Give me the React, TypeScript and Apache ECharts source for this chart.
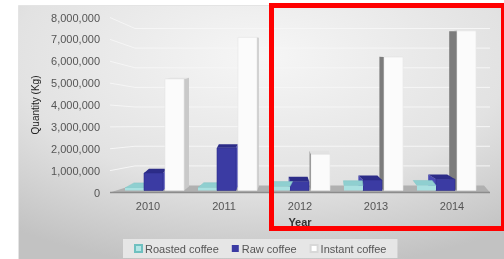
import React, { useEffect, useRef } from "react";
import * as echarts from "echarts";

const categories = ["2010", "2011", "2012", "2013", "2014"];
const seriesNames = ["Roasted coffee", "Raw coffee", "Instant coffee"];
const roasted = [120000, 130000, 180000, 220000, 230000];
const raw = [800000, 1950000, 420000, 480000, 520000];
const instant = [5100000, 7000000, 1650000, 6100000, 7300000];
const yTicks = [0, 1000000, 2000000, 3000000, 4000000, 5000000, 6000000, 7000000, 8000000];

const FACE = [
  { front: "#a9e0e0", top: "#8fcfd0", side: "#7dbcbc", stroke: "#7fc4c4" },
  { front: "#3b3ba3", top: "#2c2c88", side: "#4a4ab4", stroke: "#2d2d8a" },
  { front: "#fbfbfb", top: "#e2e2e2", side: "#c9c9c9", sideL: "#7c7c7c", stroke: "#e6e6e6" },
];

export default function App() {
  const ref = useRef<HTMLDivElement>(null);
  useEffect(() => {
    if (!ref.current) return;
    const chart = echarts.init(ref.current, null, { renderer: "svg" });

    const barData = categories.map((_, i) => [i, roasted[i], raw[i], instant[i]]);

    const renderBars = (params: any, api: any) => {
      const i = api.value(0);
      const [cx, y0] = api.coord([i, 0]);
      const yMax = api.coord([i, 8000000])[1];
      const w = 19;
      const shift = -4 - 3 * i;
      const dx = 5 - 3.2 * i;
      const base = y0 - 2;
      const offs = [-19, 0, 21];
      const order = dx >= 0 ? [0, 1, 2] : [2, 1, 0];
      const children: any[] = [];
      order.forEach((s) => {
        const v = api.value(s + 1);
        const y1 = api.coord([i, v])[1] - 2;
        const frac = (y0 - y1) / (y0 - yMax);
        const dy = -5 + 6 * frac;
        const x = cx + shift + offs[s];
        const f = FACE[s];
        if (s === 0) {
          children.push({
            type: "polygon",
            shape: { points: [[x, y1], [x + w, y1], [x + w + dx + 4, y1 - 5], [x + dx + 4, y1 - 5]] },
            style: { fill: f.top, stroke: f.stroke, lineWidth: 0.5 },
          });
          children.push({
            type: "rect",
            shape: { x, y: y1, width: w, height: Math.max(base - y1, 1.5) },
            style: { fill: f.front },
          });
          return;
        }
        if (dx >= 0) {
          children.push({
            type: "polygon",
            shape: { points: [[x + w, y1], [x + w + dx, y1 + dy], [x + w + dx, base - 4], [x + w, base]] },
            style: { fill: f.side },
          });
        } else {
          children.push({
            type: "polygon",
            shape: { points: [[x, y1], [x + dx, y1 + dy], [x + dx, base - 4], [x, base]] },
            style: { fill: (f as any).sideL || f.side },
          });
        }
        children.push({
          type: "polygon",
          shape: { points: [[x, y1], [x + w, y1], [x + w + dx, y1 + dy], [x + dx, y1 + dy]] },
          style: { fill: f.top },
        });
        children.push({
          type: "rect",
          shape: { x, y: y1, width: w, height: base - y1 },
          style: { fill: f.front, stroke: f.stroke, lineWidth: 0.6 },
        });
      });
      return { type: "group", children };
    };

    const renderGrid = (params: any, api: any) => {
      const v = api.value(0);
      const [xl, yF] = api.coord([0, v]);
      const band = api.size([1, 0])[0];
      const left = xl - band / 2;
      const right = left + band * 5;
      const yTop = api.coord([0, 8000000])[1];
      const yZero = api.coord([0, 0])[1];
      const backTop = yTop + 11;
      const backZero = yZero - 7;
      const yB = backTop + ((yF - yTop) / (yZero - yTop)) * (backZero - backTop);
      if (v === 0) {
        return {
          type: "group",
          children: [
            {
              type: "polygon",
              shape: { points: [[left, yZero], [right, yZero], [right - 6, yB], [left + 22, yB]] },
              style: { fill: "#b0b0b0" },
            },
            {
              type: "line",
              shape: { x1: left, y1: yZero, x2: right, y2: yZero },
              style: { stroke: "#8c8c8c", lineWidth: 1.5 },
            },
          ],
        };
      }
      return {
        type: "polyline",
        shape: { points: [[left, yF], [left + 25, yB], [right, yB]] },
        style: { stroke: "#f6f6f6", lineWidth: 1, fill: null },
      };
    };

    chart.setOption({
      animation: false,
      graphic: [
        {
          type: "rect",
          left: 18,
          top: 5,
          z: -10,
          shape: { width: 486, height: 254 },
          style: {
            fill: {
              type: "radial",
              x: 0.5,
              y: 0.2,
              r: 0.85,
              colorStops: [
                { offset: 0, color: "#f6f6f6" },
                { offset: 0.6, color: "#e2e2e2" },
                { offset: 1, color: "#c2c2c2" },
              ],
            },
            stroke: "#e4e4e4",
            lineWidth: 1,
          },
        },
        {
          type: "rect",
          left: 269,
          top: 3,
          z: 100,
          shape: { width: 232, height: 223 },
          style: { fill: "transparent", stroke: "#ff0000", lineWidth: 5 },
        },
      ],
      legend: {
        data: seriesNames,
        left: 123,
        top: 239,
        itemWidth: 7,
        itemHeight: 7,
        itemGap: 13,
        padding: [4, 11, 4, 11],
        backgroundColor: "#e6e6e6",
        icon: "rect",
        textStyle: { fontSize: 11, color: "#555", fontFamily: "Liberation Sans, Arial", padding: [0, 0, 0, -2] },
      },
      grid: { left: 110, right: 14, top: 17.5, bottom: 66.5, containLabel: false },
      xAxis: {
        type: "category",
        data: categories,
        name: "Year",
        nameLocation: "middle",
        nameGap: 22,
        nameTextStyle: { fontSize: 11, fontWeight: "bold", color: "#333", fontFamily: "Liberation Sans, Arial" },
        axisLine: { show: false },
        axisTick: { show: false },
        axisLabel: { fontSize: 11, color: "#555", margin: 8, fontFamily: "Liberation Sans, Arial" },
      },
      yAxis: {
        type: "value",
        min: 0,
        max: 8000000,
        interval: 1000000,
        name: "Quantity (Kg)",
        nameLocation: "middle",
        nameGap: 52,
        nameTextStyle: { fontSize: 10, color: "#222", fontFamily: "Liberation Sans, Arial" },
        axisLine: { show: false },
        axisTick: { show: false },
        splitLine: { show: false },
        axisLabel: {
          fontSize: 11,
          color: "#555",
          margin: 10,
          fontFamily: "Liberation Sans, Arial",
          formatter: (v: number) => v.toLocaleString("en-US"),
        },
      },
      series: [
        {
          type: "custom",
          name: "grid",
          silent: true,
          z: 1,
          data: yTicks.map((v) => [v]),
          encode: { y: 0 },
          renderItem: renderGrid,
        },
        {
          type: "custom",
          name: "bars",
          z: 3,
          data: barData,
          encode: { x: 0, y: [1, 2, 3] },
          renderItem: renderBars,
        },
        { type: "bar", name: seriesNames[0], data: [], itemStyle: { color: "#b4e6e6", borderColor: "#6fc0c0", borderWidth: 1 } },
        { type: "bar", name: seriesNames[1], data: [], itemStyle: { color: "#3b3ba3" } },
        { type: "bar", name: seriesNames[2], data: [], itemStyle: { color: "#ffffff", borderColor: "#d8d8d8", borderWidth: 1 } },
      ],
    });
    return () => chart.dispose();
  }, []);
  return <div ref={ref} style={{ position: "fixed", left: 0, top: 0, width: 504, height: 259 }} />;
}
